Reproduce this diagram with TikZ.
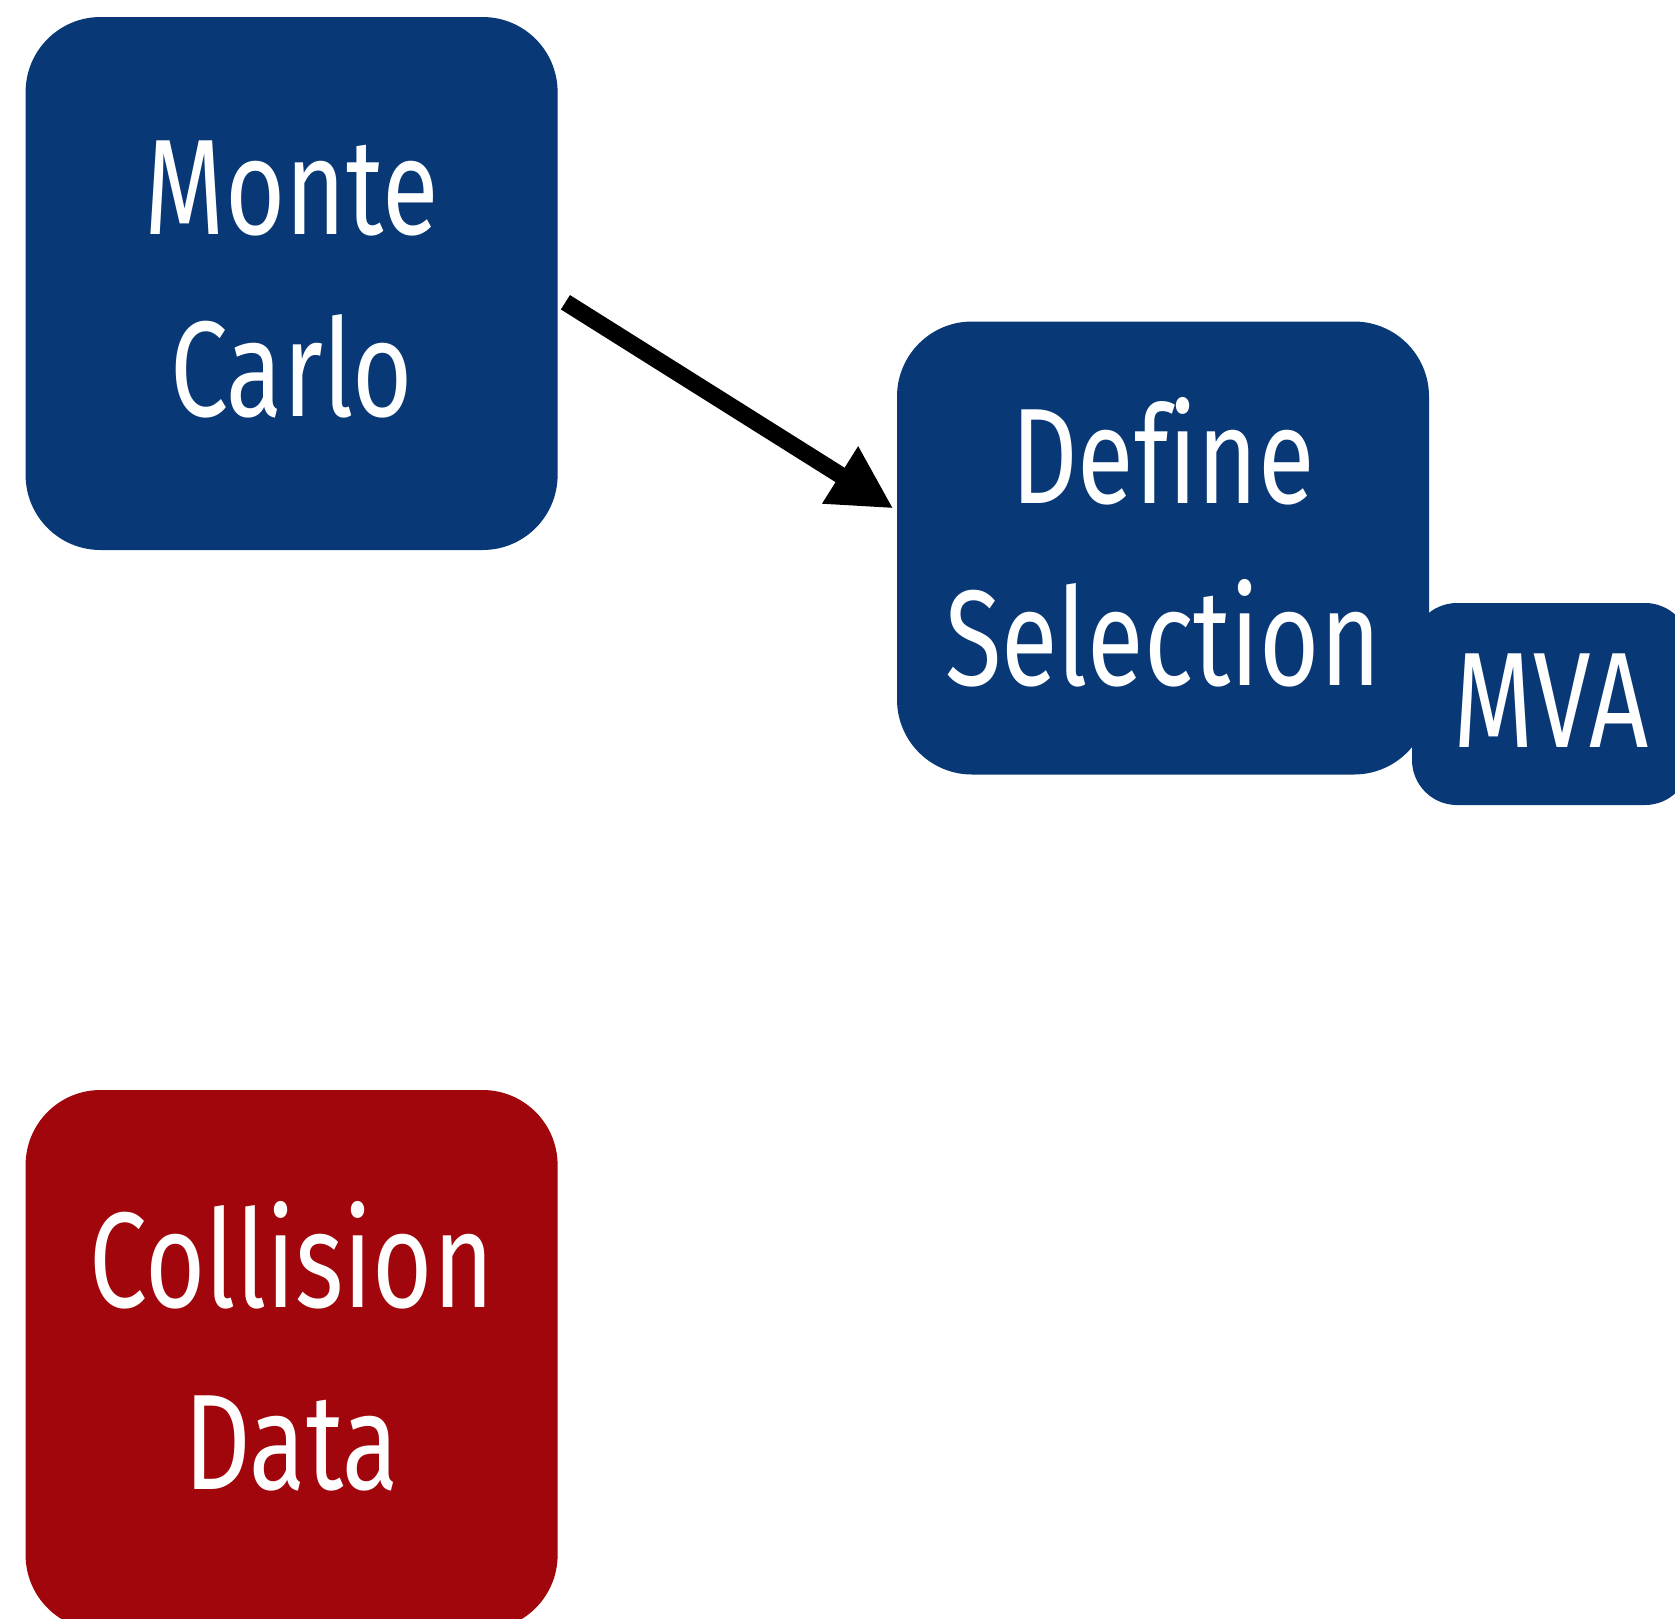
\documentclass[tikz,border=0pt]{standalone}
\usepackage{fontspec}
\newfontfamily\condfont[FakeStretch=0.76, Ligatures=NoCommon]{Fira Sans}
\usetikzlibrary{arrows.meta}
\definecolor{boxblue}{RGB}{8,57,118}
\definecolor{boxred}{RGB}{160,6,11}
\newcommand\lowstrut[1]{\rule[-#1]{0pt}{#1}}
\tikzset{
  bigbox/.style={fill=boxblue, draw=none, rounded corners=75pt, text=white,
    align=center, inner sep=0pt, minimum width=532pt,
    font=\condfont\fontsize{136}{182}\selectfont},
  smallbox/.style={fill=boxblue, draw=none, rounded corners=45pt, text=white,
    align=center, inner sep=0pt, minimum width=278pt, minimum height=202pt,
    font=\condfont\fontsize{136}{182}\selectfont},
  flowarrow/.style={line width=17pt, -{Triangle[length=63pt,width=63pt]}}
}
\begin{document}
\begin{tikzpicture}[x=1pt,y=-1pt]
\useasboundingbox (0,0) rectangle (1675,1618);
\node[bigbox, minimum height=533pt] (mc) at (291.6,283.5) {Monte\\Carlo\lowstrut{9pt}};
\node[bigbox, minimum height=453pt] (ds) at (1163,548) {Define\\Selection\lowstrut{13pt}};
\node[smallbox] (mva) at (1551,704) {MVA\lowstrut{6pt}};
\node[bigbox, fill=boxred, minimum height=540pt] (cd) at (291.6,1360) {Collision\\Data\lowstrut{30pt}};
\draw[flowarrow, shorten <=9pt, shorten >=4pt] (mc.-3) -- (ds.172.5);
\end{tikzpicture}
\end{document}
